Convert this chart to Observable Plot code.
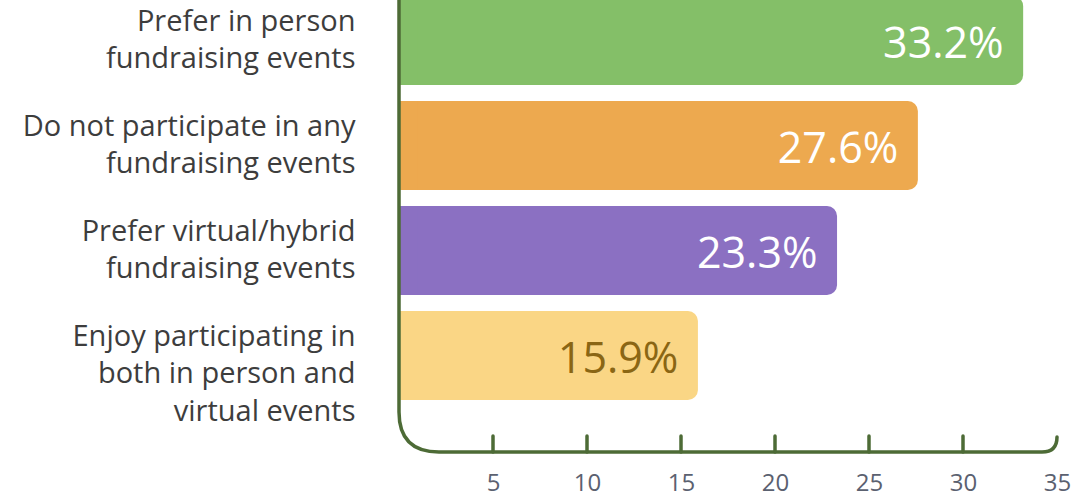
<!DOCTYPE html>
<html>
<head>
<meta charset="utf-8">
<script src="https://cdn.jsdelivr.net/npm/d3@7"></script>
<script src="https://cdn.jsdelivr.net/npm/@observablehq/plot@0.6"></script>
<style>
  html, body { margin: 0; padding: 0; background: #fff; }
  #chart { width: 1089px; height: 496px; overflow: hidden; }
</style>
</head>
<body>
<div id="chart"></div>
<script>
const categories = [
  "Prefer in person\nfundraising events",
  "Do not participate in any\nfundraising events",
  "Prefer virtual/hybrid\nfundraising events",
  "Enjoy participating in\nboth in person and\nvirtual events"
];
const values = [33.2, 27.6, 23.3, 15.9];
const valueLabels = ["33.2%", "27.6%", "23.3%", "15.9%"];
const barColors = ["#84bf68", "#eda94f", "#8b70c2", "#fad685"];
const labelColors = ["#ffffff", "#ffffff", "#ffffff", "#8a6614"];
const tickValues = [5, 10, 15, 20, 25, 30, 35];

const data = categories.map((c, i) => ({
  category: c, value: values[i], label: valueLabels[i],
  color: barColors[i], labelColor: labelColors[i]
}));

const axisColor = "#4d6b36";
const FONT = "'Open Sans', Lato, sans-serif";

function axisFrame(index, scales, values, dimensions) {
  const x0 = scales.x(0), x1 = scales.x(35);
  const yb = dimensions.height - dimensions.marginBottom;
  const r = 40, r2 = 15;
  const ns = "http://www.w3.org/2000/svg";
  const g = document.createElementNS(ns, "g");
  const p = document.createElementNS(ns, "path");
  p.setAttribute("d",
    `M${x0},0 L${x0},${yb - r} Q${x0},${yb} ${x0 + r},${yb} ` +
    `L${x1 - r2},${yb} Q${x1},${yb} ${x1},${yb - r2}`);
  p.setAttribute("fill", "none");
  p.setAttribute("stroke", axisColor);
  p.setAttribute("stroke-width", 3.5);
  p.setAttribute("stroke-linecap", "round");
  g.appendChild(p);
  for (const t of tickValues.slice(0, -1)) {
    const l = document.createElementNS(ns, "line");
    const tx = scales.x(t);
    l.setAttribute("x1", tx); l.setAttribute("x2", tx);
    l.setAttribute("y1", yb); l.setAttribute("y2", yb - 16);
    l.setAttribute("stroke", axisColor);
    l.setAttribute("stroke-width", 3.5);
    l.setAttribute("stroke-linecap", "round");
    g.appendChild(l);
  }
  return g;
}

const chart = Plot.plot({
  width: 1089,
  height: 496,
  marginLeft: 399,
  marginRight: 32,
  marginTop: 0,
  marginBottom: 44,
  style: { fontFamily: FONT, background: "#fff", overflow: "visible" },
  x: { domain: [0, 35], axis: null },
  y: { domain: categories, range: [-11.5, 408.5], paddingInner: 0.152, paddingOuter: 0.076, axis: null },
  marks: [
    Plot.barX(data, { y: "category", x1: 0, x2: "value", fill: "color", rx: 10 }),
    Plot.barX(data, { y: "category", x1: 0, x2: 1, fill: "color" }),
    Plot.text(data, {
      y: "category", x: "value", text: "label", fill: "labelColor",
      textAnchor: "end", dx: -20, dy: 3, fontSize: 43, fontWeight: 400
    }),
    Plot.text(data, {
      y: "category", x: 0, text: "category", textAnchor: "end",
      lineAnchor: "top", dx: -44, dy: -36, fontSize: 29, lineHeight: 1.28,
      fill: "#3d3d3d"
    }),
    Plot.text(tickValues, {
      x: d => d, text: d => String(d), frameAnchor: "bottom",
      dy: 38, fontSize: 24, fill: "#5b6170"
    }),
    axisFrame
  ]
});
document.getElementById("chart").appendChild(chart);
</script>
</body>
</html>
